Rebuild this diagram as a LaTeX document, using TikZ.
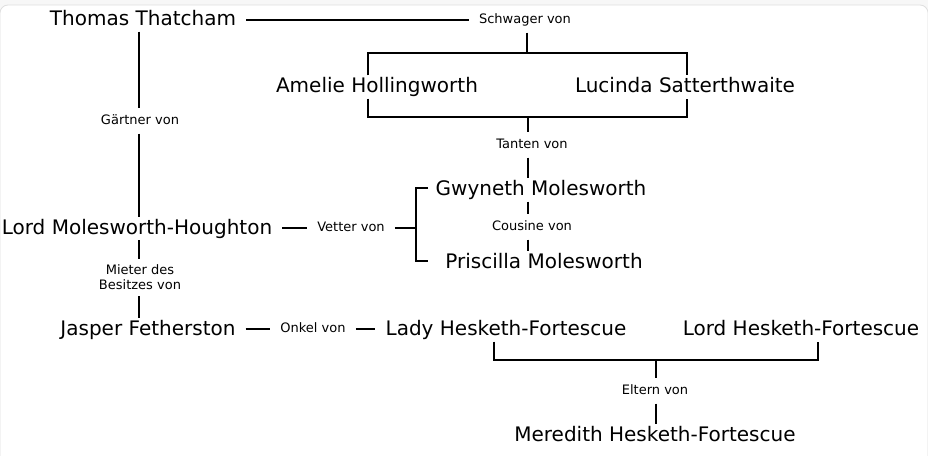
\documentclass[tikz,border=0pt]{standalone}
\usepackage{fontspec}
\setmainfont{DejaVu Sans}
\begin{document}
\begin{tikzpicture}[x=1pt,y=-1pt,
  person/.style={inner xsep=10pt,inner ysep=2pt,text height=15pt,text depth=4pt,font=\fontsize{20}{24}\selectfont},
  labbase/.style={inner xsep=10pt,inner ysep=6pt,font=\fontsize{13}{15}\selectfont},
  lab/.style={labbase,text height=10pt,text depth=3pt},
  conn/.style={line width=1.7pt,draw=black}]
\useasboundingbox (0,0) rectangle (928,455);
\begin{scope}
\clip (0,0) rectangle (928,455);
\fill[gray!6] (0,0) rectangle (928,455);
\fill[white,draw=gray!25,line width=0.8pt,rounded corners=8pt] (0,5) rectangle (928,480);
\end{scope}
% persons
\node[person] (tt) at (143,20) {Thomas Thatcham};
\node[person] (ah) at (377,87) {Amelie Hollingworth};
\node[person] (ls) at (685,87) {Lucinda Satterthwaite};
\node[person] (gm) at (541,190) {Gwyneth Molesworth};
\node[person] (pm) at (544,263) {Priscilla Molesworth};
\node[person] (lmh) at (137,228.5) {Lord Molesworth-Houghton};
\node[person] (jf) at (148,330) {Jasper Fetherston};
\node[person] (lhf) at (506,330) {Lady Hesketh-Fortescue};
\node[person] (lordhf) at (801,330) {Lord Hesketh-Fortescue};
\node[person] (mhf) at (655,436) {Meredith Hesketh-Fortescue};
% labels
\node[lab] (sv) at (525,20) {Schwager von};
\node[lab] (tv) at (532,145) {Tanten von};
\node[lab] (cv) at (532,227) {Cousine von};
\node[lab] (gv) at (140,121) {Gärtner von};
\node[lab] (vv) at (351,228) {Vetter von};
\node[labbase,align=center] (mb) at (140,277.5) {Mieter des\\Besitzes von};
\node[lab] (ov) at (313,329) {Onkel von};
\node[lab] (ev) at (655,391) {Eltern von};
% coordinates
\coordinate (vx) at (139,0);
\coordinate (b1l) at (368,53);
\coordinate (b1r) at (687,53);
\coordinate (b1m) at (527,53);
\coordinate (b2l) at (368,117);
\coordinate (b2r) at (687,117);
\coordinate (b2m) at (528,117);
\coordinate (vbt) at (416,188);
\coordinate (vbb) at (416,261);
\coordinate (vst) at (428,188);
\coordinate (vsb) at (428,261);
\coordinate (p1) at (494,360);
\coordinate (p2) at (818,360);
\coordinate (pmid) at (656,360);
% connectors
\draw[conn] (tt.east |- sv.west) -- (sv.west);
\draw[conn] (b1m |- sv.south) -- (b1m);
\draw[conn] (b1l |- ah.north) -- (b1l) -- (b1r) -- (b1r |- ls.north);
\draw[conn] (b2l |- ah.south) -- (b2l) -- (b2r) -- (b2r |- ls.south);
\draw[conn] (b2m) -- (b2m |- tv.north);
\draw[conn] (b2m |- tv.south) -- (b2m |- gm.north);
\draw[conn] (b2m |- gm.south) -- (b2m |- cv.north);
\draw[conn] (b2m |- cv.south) -- (b2m |- pm.north);
\draw[conn] (vx |- tt.south) -- (vx |- gv.north);
\draw[conn] (vx |- gv.south) -- (vx |- lmh.north);
\draw[conn] (lmh.east |- vv.west) -- (vv.west);
\draw[conn] (vv.east) -- (vv.east -| vbt);
\draw[conn] (vst) -- (vbt) -- (vbb) -- (vsb);
\draw[conn] (vx |- lmh.south) -- (vx |- mb.north);
\draw[conn] (vx |- mb.south) -- (vx |- jf.north);
\draw[conn] (jf.east |- ov.west) -- (ov.west);
\draw[conn] (ov.east) -- (ov.east -| lhf.west);
\draw[conn] (p1 |- lhf.south) -- (p1) -- (p2) -- (p2 |- lordhf.south);
\draw[conn] (pmid) -- (pmid |- ev.north);
\draw[conn] (pmid |- ev.south) -- (pmid |- mhf.north);
\end{tikzpicture}
\end{document}
